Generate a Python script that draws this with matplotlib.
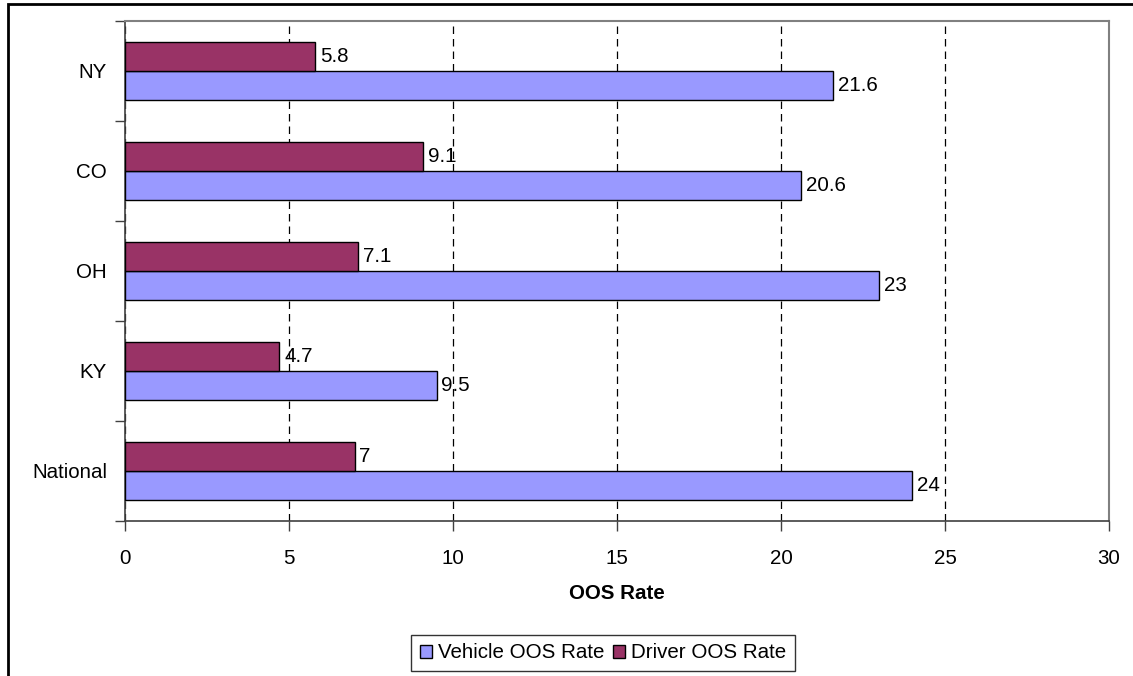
import matplotlib
matplotlib.use("Agg")
import matplotlib.pyplot as plt
from matplotlib.patches import Rectangle
from matplotlib.ticker import FixedLocator

plt.rcParams['font.family'] = ['Liberation Sans', 'DejaVu Sans']

states = ["National", "KY", "OH", "CO", "NY"]
vehicle_oos = [24, 9.5, 23, 20.6, 21.6]
driver_oos = [7, 4.7, 7.1, 9.1, 5.8]
x_ticks = [0, 5, 10, 15, 20, 25, 30]

VEH_COLOR = "#9999FF"
DRV_COLOR = "#993366"
FS = 14.8

fig = plt.figure(figsize=(11.33, 6.76), dpi=100)
ax = fig.add_axes([125 / 1133, 1 - 521 / 676, (1109 - 125) / 1133, 500 / 676])

pos = list(range(len(states)))
h = 0.29
ax.barh([p - 0.145 for p in pos], vehicle_oos, height=h, color=VEH_COLOR,
        edgecolor="black", linewidth=1.0, label="Vehicle OOS Rate", zorder=3)
ax.barh([p + 0.145 for p in pos], driver_oos, height=h, color=DRV_COLOR,
        edgecolor="black", linewidth=1.0, label="Driver OOS Rate", zorder=3)

for p, v in zip(pos, vehicle_oos):
    ax.annotate(f"{v:g}", (v, p - 0.145), xytext=(3.5, 0), textcoords="offset points",
                va="center", ha="left", fontsize=FS, zorder=4)
for p, v in zip(pos, driver_oos):
    ax.annotate(f"{v:g}", (v, p + 0.145), xytext=(3.5, 0), textcoords="offset points",
                va="center", ha="left", fontsize=FS, zorder=4)

ax.set_xlim(0, 30)
ax.set_ylim(-0.5, len(states) - 0.5)
ax.set_xticks(x_ticks)
ax.set_xticklabels([str(t) for t in x_ticks], fontsize=FS)
ax.set_yticks(pos)
ax.set_yticklabels(states, fontsize=FS)
ax.yaxis.set_minor_locator(FixedLocator([p - 0.5 for p in range(len(states) + 1)]))
ax.tick_params(axis="y", which="major", length=0, pad=13)
ax.tick_params(axis="y", which="minor", length=7, width=1, color="#404040", direction="out")
ax.tick_params(axis="x", which="major", length=7, width=1, color="#404040", direction="out", pad=13)

ax.xaxis.grid(True, linestyle=(0, (6, 4)), color="black", linewidth=0.9, zorder=0)
ax.set_axisbelow(True)

for side in ("top", "right"):
    ax.spines[side].set_color("#808080")
    ax.spines[side].set_linewidth(1.5)
for side in ("left", "bottom"):
    ax.spines[side].set_color("#404040")
    ax.spines[side].set_linewidth(1.2)

ax.set_xlabel("OOS Rate", fontsize=FS, fontweight="bold", labelpad=12)

handles = [Rectangle((0, 0), 1, 1, facecolor=VEH_COLOR, edgecolor="black", linewidth=1),
           Rectangle((0, 0), 1, 1, facecolor=DRV_COLOR, edgecolor="black", linewidth=1)]
leg = fig.legend(handles, ["Vehicle OOS Rate", "Driver OOS Rate"], loc="center",
                 bbox_to_anchor=(603 / 1133, 1 - 653 / 676), ncol=2, fontsize=FS,
                 frameon=True, fancybox=False, handlelength=0.6, handleheight=0.6,
                 handletextpad=0.3, columnspacing=0.4, borderpad=0.4)
leg.get_frame().set_edgecolor("black")
leg.get_frame().set_linewidth(1.0)

# outer chart border
fig.add_artist(Rectangle((8 / 1133, -0.05), 1.2, 1 - 4 / 676 + 0.05,
                         transform=fig.transFigure, fill=False,
                         edgecolor="black", linewidth=2.0))

fig.savefig("out.png", dpi=100)
